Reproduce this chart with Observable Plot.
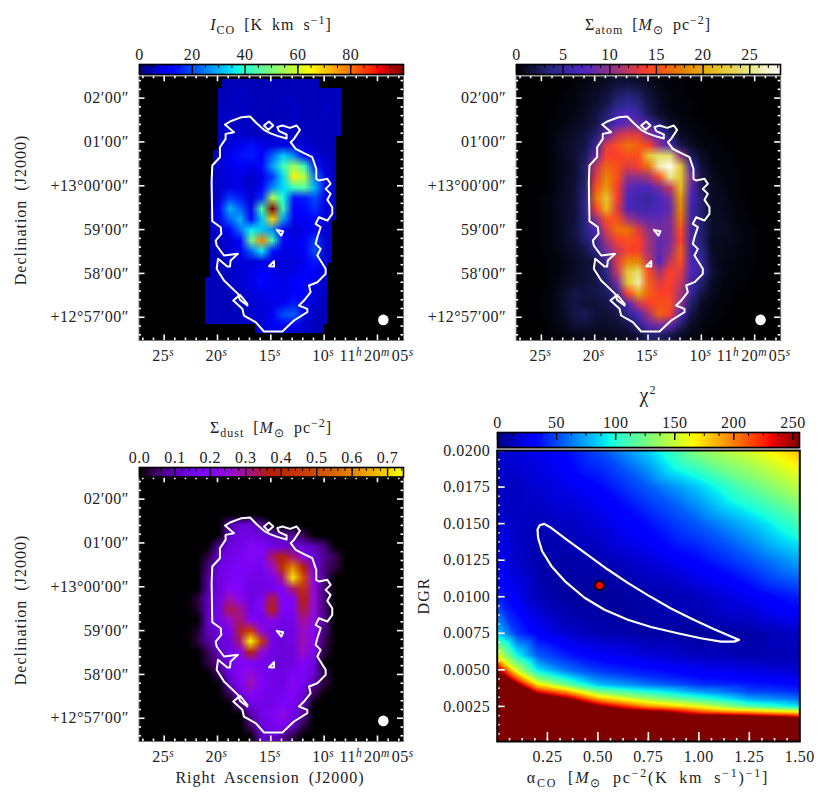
<!DOCTYPE html>
<html>
<head>
<meta charset="utf-8">
<script src="https://cdn.jsdelivr.net/npm/d3@7"></script>
<script src="https://cdn.jsdelivr.net/npm/@observablehq/plot@0.6"></script>
<style>
  body { margin: 0; background: white; font-family: "Liberation Serif", serif; color: #222; }
  #page { position: relative; width: 830px; height: 807px; overflow: hidden; }
  #page svg { position: absolute; }
  .lab { position: absolute; white-space: nowrap; font-size: 16px; transform: translate(-50%, -50%); letter-spacing: 1px; word-spacing: 4px; }
  .lab.rot { transform: translate(-50%, -50%) rotate(-90deg); }
  .lab.wide { letter-spacing: 1.8px; word-spacing: 5px; }
  .lab sub, .lab sup { font-size: 12px; line-height: 0; }
</style>
</head>
<body>
<div id="page"></div>
<script>
// map axes: RA seconds past 11h20m, Dec arcmin from +13 deg
const raTicks = [25, 20, 15, 10, 5];
const decTicks = [2, 1, 0, -1, -2, -3];
const decLabels = ["02′00″", "01′00″", "+13°00′00″", "59′00″", "58′00″", "+12°57′00″"];
const raDomain = [27.36, 2.56];
const decDomain = [-3.53, 2.5];

// I_CO, K km/s, columns from RA 21.39s going 1s per cell, 14 columns, 25 rows
const icoRows = [
  [4,5,5,5,5,4,5,5,5,5,5,5,5,5],
  [4,5,5,6,5,5,5,5,5,5,5,5,6,5],
  [4,5,6,6,6,5,5,6,6,5,5,6,5,5],
  [4,6,6,6,5,5,5,5,6,5,5,6,5,5],
  [4,6,6,6,6,5,5,5,5,5,6,5,5,4],
  [4,6,7,7,6,6,6,7,6,6,6,5,5,4],
  [4,6,8,10,14,9,8,9,8,7,6,5,5,4],
  [4,7,10,14,15,11,22,33,26,11,8,6,5,4],
  [5,7,9,12,9,13,28,42,54,42,15,7,5,4],
  [5,7,9,9,6,9,18,34,66,56,24,9,5,4],
  [5,6,9,9,6,11,26,34,42,46,30,11,5,4],
  [5,7,18,15,7,16,56,38,14,15,20,9,5,4],
  [5,11,30,22,9,44,100,42,12,13,17,9,5,4],
  [5,9,22,30,11,32,70,28,10,11,13,7,5,4],
  [5,7,11,24,36,32,26,11,7,9,12,7,5,4],
  [5,6,8,13,48,78,42,11,9,11,18,7,5,4],
  [5,5,7,10,22,36,14,9,9,11,20,7,5,4],
  [5,5,7,8,8,9,8,8,8,10,15,7,5,4],
  [5,5,6,7,9,11,9,8,9,11,10,7,5,4],
  [5,5,6,7,9,13,10,9,11,13,9,6,5,4],
  [5,5,5,6,8,9,10,9,11,11,8,6,4,4],
  [5,5,5,6,7,8,9,10,15,11,7,5,4,4],
  [5,5,5,6,7,8,10,20,22,9,6,5,4,4],
  [5,5,5,6,6,7,11,12,10,7,5,5,4,4],
  [5,5,5,6,6,6,6,6,6,6,5,4,4,4]
];
// CO map coverage: dec top, dec bottom, RA left, RA right
const icoFootprint = [
  [2.5, 2.42, 15, 15],
  [2.42, 2.21, 19.55, 10.48],
  [2.21, 1.12, 19.86, 8.39],
  [1.12, 0.80, 19.86, 8.86],
  [0.80, 0.20, 20.33, 8.86],
  [0.20, -0.79, 20.64, 8.86],
  [-0.79, -1.78, 20.64, 9.23],
  [-1.78, -2.09, 20.64, 9.70],
  [-2.09, -3.17, 21.11, 9.70],
  [-3.17, -3.36, 16.42, 10.02],
  [-3.36, -3.53, 15, 15]
];

// Sigma_atom, 25 x 25 cells over the whole frame
const atomRows = [
  [0,0,0,0,0,.3,.5,.8,1,1.5,1.5,1.2,1,.5,.3,.2,.1],
  [0,0,0,0,.2,.4,.8,1,1.5,2.5,3,2.5,1.5,.8,.4,.2,.1],
  [0,0,0,.1,.3,.5,.8,1.2,2,3.5,4.5,3.5,2,1,.5,.3,.2,.1],
  [0,0,0,.2,.4,.6,1,1.8,3,6,7,5.5,2.5,1.2,.6,.4,.2,.1],
  [0,0,.1,.3,.5,.8,1.2,2,4,7,8.5,8,6,3,1.2,.6,.4,.2,.1],
  [0,0,.1,.4,.8,1.2,1.8,3,8,12,13,13,10,7,3,1,.6,.3,.2,.1],
  [0,0,.1,.5,1,1.4,2,5,13,15,17,16,14,10,7,2,1,.5,.3,.2,.1],
  [0,0,.1,.4,.9,1.4,2.5,8,14,14,15,15,22,24,24,10,2.5,1,.5,.3,.2],
  [0,0,.1,.4,.8,1.3,3,12,16,15,13,14,17,26,28,22,6,1.5,.6,.4,.2,.1],
  [0,0,.1,.4,.8,1.4,3,13,18,15,10,10,11,15,25,22,9,2,.8,.5,.3,.1],
  [0,0,.1,.4,.9,1.5,3.5,15,19,14,8,7,7,9,12,21,8,2.5,1,.6,.3,.1],
  [.1,.1,.3,.6,1,1.5,4,17,22,14,7,6,5,7,9,19,7,3,1,.7,.4,.2],
  [0,.1,.3,.6,1,1.5,4,14,21,13,7,6,6,7,8,18,6,3,1,.8,.5,.2],
  [0,.1,.2,.5,1,1.6,3.5,10,15,15,11,9,8,8,9,17,6,3,1,1,.6,.3,.1],
  [0,.1,.2,.5,1,1.8,3.5,7,13,17,17,13,10,9,9,15,6,3,1.2,1,.7,.4,.2],
  [0,.1,.2,.5,1,1.6,3,5,11,14,15,14,11,8,9,14,6,3,1,.8,.7,.5,.3],
  [0,.1,.2,.4,.8,1.3,2,4,9,12,14,14,11,8,10,16,6,4,1,.7,.6,.4,.2],
  [0,0,.1,.3,.6,1,1.5,2,5,13,18,18,12,7,12,15,7,5,1.2,.6,.5,.3,.2],
  [0,0,.1,.3,.6,1,1.5,2,4,12,22,24,15,11,14,13,7,5,1.5,.6,.4,.3,.1],
  [0,0,.1,.4,.8,1.2,1.5,2,3,9,22,26,16,13,14,12,6,3,1,.5,.3,.2,.1],
  [0,.1,.2,.5,1.2,2,1.8,2,2.5,5,14,20,16,14,14,11,5,2,.8,.4,.2,.1],
  [0,.1,.2,.5,1.2,2,1.5,1.5,2,3,7,12,14,15,15,10,3,1,.5,.3,.1],
  [0,.1,.2,.5,1,2,2.5,1.5,1.5,2,4,7,11,16,14,7,2,.8,.4,.2,.1],
  [0,0,.1,.4,.8,1.5,1.5,1.2,1.2,1.5,2,4,8,9,8,3,1,.5,.3,.1],
  [0,0,.1,.2,.4,.6,.8,.8,.8,1,1,1.5,3,3,2,1,.5,.3,.1]
];

// Sigma_dust in hundredths, 25 x 25 cells over the whole frame
const dustRows = [
  [], [], [], [],
  [0,0,0,0,0,0,0,0,8,13,13,8],
  [0,0,0,0,0,0,0,0,11,14,15,13,11,8,8,4],
  [0,0,0,0,0,0,0,8,14,15,20,18,15,14,12,12,10,6],
  [0,0,0,0,0,0,3,12,15,17,20,18,32,38,32,22,12,7,4],
  [0,0,0,0,0,0,6,13,16,18,17,16,26,42,60,38,17,6,3],
  [0,0,0,0,0,0,8,14,17,18,15,15,17,30,72,50,22,6],
  [0,0,0,0,0,0,8,14,20,18,14,14,16,18,32,42,24,6],
  [0,0,0,0,0,3,10,15,28,22,14,18,35,18,18,38,24,6],
  [0,0,0,0,0,2,10,16,34,30,15,18,38,18,17,35,24,6],
  [0,0,0,0,0,0,11,15,25,32,20,16,22,15,16,30,22,7],
  [0,0,0,0,0,2,10,13,17,35,45,24,15,14,15,27,20,6],
  [0,0,0,0,0,3,8,13,14,32,74,46,16,13,15,28,20,4],
  [0,0,0,0,0,0,4,11,14,20,38,25,15,13,14,27,17,3],
  [0,0,0,0,0,0,3,8,14,18,18,16,14,13,14,20,14],
  [0,0,0,0,0,0,0,6,14,20,24,17,15,14,17,18,13,3],
  [0,0,0,0,0,0,0,0,10,18,28,18,15,14,20,17,8,3],
  [0,0,0,0,0,0,0,0,4,13,20,17,15,16,20,13,4],
  [0,0,0,0,0,0,0,0,0,6,14,15,15,18,17,10],
  [0,0,0,0,0,0,0,0,0,0,8,15,17,23,16,8],
  [0,0,0,0,0,0,0,0,0,0,5,12,16,18,12,3],
  [0,0,0,0,0,0,0,0,0,0,0,10,12,8,3]
];

// outer contour and the small holes, as [RA s, Dec arcmin]
const contourOuter = [
  [19.30,1.397],[18.83,1.466],[17.73,1.565],[16.95,1.58],[16.33,1.428],[15.64,1.276],[15.08,1.20],[14.39,1.139],
  [13.52,1.078],[13.52,1.169],[14.23,1.245],[14.39,1.337],[13.92,1.375],[13.20,1.321],[12.58,1.375],[12.27,1.276],
  [12.83,1.070],[13.14,.994],[12.67,.842],[11.89,.743],[11.11,.652],[10.74,.386],[10.74,.158],[10.49,.120],
  [9.70,.158],[9.39,.044],[9.86,-.070],[9.39,-.184],[9.70,-.321],[9.24,-.489],[9.24,-.641],[9.70,-.793],
  [10.49,-.717],[10.80,-.869],[10.33,-.945],[10.64,-1.173],[10.80,-1.325],[10.33,-1.439],[10.64,-1.591],[9.86,-1.895],
  [9.86,-2.010],[10.64,-2.200],[11.42,-2.276],[11.27,-2.428],[11.89,-2.618],[12.36,-2.732],[11.58,-2.808],[11.58,-2.884],
  [12.83,-3.074],[13.92,-3.325],[15.64,-3.325],[16.42,-3.112],[17.52,-2.960],[17.67,-2.808],[18.52,-2.618],[17.89,-2.489],
  [17.20,-2.694],[17.20,-2.732],[17.89,-2.603],[18.08,-2.466],[19.39,-2.162],[20.08,-1.895],[19.95,-1.667],[19.08,-1.842],
  [18.83,-1.842],[18.77,-1.705],[18.08,-1.553],[19.39,-1.591],[20.08,-1.363],[20.17,-1.249],[19.64,-1.097],[19.70,-.945],
  [20.49,-.808],[20.55,.082],[20.49,.462],[19.77,.652],[19.77,.880],[19.24,1.070],[19.24,1.184],[18.45,1.222],[19.30,1.397]
];
const contourHoleA = [[14.45,-1.006],[13.83,-1.036],[14.02,-1.135],[14.45,-1.006]];
const contourHoleB = [[15.17,-1.835],[14.70,-1.720],[14.70,-1.842],[15.17,-1.835]];
const contourDiamond = [[15.64,1.374],[15.17,1.466],[14.77,1.374],[15.23,1.276],[15.64,1.374]];
const beam = [[4.45, -3.06]];

// chi2 table
const chiAlpha = [0, .1, .2, .35, .5, .75, 1, 1.25, 1.5];
const chiDgr = [.02, .0175, .015, .0125, .01, .0075, .006, .005, .0045, .004, .0035, .003, .0025, .002, .0015, .0001];
const chiRows = [
  [16,20,25,35,50,85,132,155,183],
  [15,15,18,24,32,55,83,118,148],
  [20,15,13,15,20,35,55,80,110],
  [26,16,10,9,11,20,33,52,75],
  [40,25,13,7,6,9,15,26,40],
  [85,45,28,17,12,8,6,9,16],
  [160,95,55,38,28,20,14,11,12],
  [255,150,90,60,45,35,26,22,18],
  [300,200,125,88,60,44,33,28,24],
  [350,260,170,120,80,60,44,38,32],
  [400,320,235,190,130,100,72,50,42],
  [500,400,320,260,190,140,110,75,60],
  [600,500,400,330,260,195,160,115,90],
  [600,600,500,400,330,290,235,215,190],
  [600,600,600,500,400,400,400,350,300],
  [600,600,600,600,600,600,600,600,600]
];
const chiContour = [
  [.212,.01489],[.234,.01498],[.270,.01470],[.352,.01384],[.451,.01284],[.549,.01186],[.648,.01095],[.747,.01011],
  [.862,.00920],[.977,.00841],[1.076,.00777],[1.174,.00720],[1.199,.00705],[1.174,.00693],[1.109,.00693],[1.010,.00716],
  [.895,.00750],[.763,.00793],[.648,.00843],[.533,.00911],[.434,.00993],[.336,.01107],[.270,.01209],[.224,.01311],
  [.204,.01402],[.201,.01459],[.212,.01489]
];
const chiBest = [[.508, .01077]];
const alphaTicks = [.25, .5, .75, 1, 1.25, 1.5];
const dgrTicks = [.0025, .005, .0075, .01, .0125, .015, .0175, .02];

// colour maps
const jetStops = [0, .11, .125, .35, .375, .64, .66, .89, .91, 1];
const jetColors = ["#00007f", "#0000fe", "#0000ff", "#00e5f7", "#14ffe2", "#f5ff08", "#fff000", "#ff1a00", "#f00000", "#7f0000"];
const cmrStops = [0, .125, .25, .375, .5, .625, .75, .875, 1];
const cmrColors = ["#000000", "#262680", "#4d26bf", "#993380", "#ff4026", "#e68000", "#e6bf1a", "#e6e680", "#ffffff"];
const gnuStops = [0, .05, .1, .15, .25, .35, .4, .45, .5, .6, .7, .8, .9, 1];
const gnuColors = ["#000000", "#38004f", "#510096", "#6301ce", "#8004ff", "#970bce", "#a11096", "#ab174f", "#b42000", "#c63700", "#d55700", "#e48300", "#f2ba00", "#ffff00"];

const page = document.getElementById("page");
const textStyle = {background: "transparent", fontFamily: "Liberation Serif", fontSize: "16px", color: "#222", overflow: "visible", letterSpacing: "0.5px"};

function scaleFor(maxVal, stops, colors) {
  return {type: "linear", domain: stops.map(s => s * maxVal), range: colors, clamp: true};
}

// tick labels carry ^x for raised letters
function raise(svg) {
  d3.select(svg).selectAll("text").each(function () {
    const s = this.textContent;
    if (!s.includes("^")) return;
    const el = d3.select(this).text(null);
    s.split(/(\^.)/).filter(p => p).forEach(p => {
      if (p[0] === "^") {
        el.append("tspan").attr("dy", -5).attr("font-size", 11.5).attr("font-style", "italic").text(p[1]);
        el.append("tspan").attr("dy", 5).text("\u200a");
      } else el.append("tspan").text(p);
    });
  });
}

function place(svg, left, top) {
  raise(svg);
  svg.style.left = left + "px";
  svg.style.top = top + "px";
  page.append(svg);
}

function label(html, x, y, cls) {
  const d = document.createElement("div");
  d.className = "lab " + (cls || "");
  d.style.left = x + "px";
  d.style.top = y + "px";
  d.innerHTML = html;
  page.append(d);
  return d;
}

function flat(rows, n) {
  return rows.flatMap(r => d3.range(n).map(i => r[i] ?? 0));
}

// inward ticks: a tick spans the band, inset leaves only its end showing
function ticksX(values, len, span, side, st) {
  return Plot.tickX(values, {x: d => d, ...st, [side === "bottom" ? "insetTop" : "insetBottom"]: span - len});
}
function ticksY(values, len, span, side, st) {
  return Plot.tickY(values, {y: d => d, ...st, [side === "left" ? "insetRight" : "insetLeft"]: span - len});
}

function skyPanel(o) {
  const frameW = 264.5, frameH = 264.3;
  const raMinor = d3.range(3, 28).filter(d => !raTicks.includes(d));
  const decMinor = d3.range(-35, 25, 2).map(d => (d + 1) / 10).filter(d => !decTicks.includes(d));
  const st = {stroke: "white", strokeWidth: 1.6};
  const marks = [
    Plot.frame({fill: "black"}),
    ...o.image,
    ...[contourOuter, contourHoleA, contourHoleB, contourDiamond].map(c =>
      Plot.line(c, {x: "0", y: "1", stroke: "white", strokeWidth: 2, curve: "linear"})),
    Plot.dot(beam, {x: "0", y: "1", r: 5.3, fill: "white"}),
    Plot.frame({stroke: "#777", strokeWidth: 1}),
    ticksX(raMinor, 2.5, frameH, "bottom", st),
    ticksX(raMinor, 2.5, frameH, "top", st),
    ticksX(raTicks, 5.5, frameH, "bottom", st),
    ticksX(raTicks, 5.5, frameH, "top", st),
    ticksY(decMinor, 2.5, frameW, "left", st),
    ticksY(decMinor, 2.5, frameW, "right", st),
    ticksY(decTicks, 6, frameW, "left", st),
    ticksY(decTicks, 6, frameW, "right", st),
    Plot.axisX(raTicks, {anchor: "bottom", tickSize: 0, tickPadding: 9, label: null, stroke: null,
      tickFormat: d => d === 5 ? "11^h20^m05^s" : d + "^s"}),
    Plot.axisY(decTicks, {anchor: "left", tickSize: 0, tickPadding: 10, label: null, stroke: null,
      tickFormat: d => decLabels[decTicks.indexOf(d)]})
  ];
  const svg = Plot.plot({
    width: o.marginLeft + frameW + o.marginRight,
    height: 15.7 + frameH + 30,
    marginLeft: o.marginLeft, marginRight: o.marginRight, marginTop: 15.7, marginBottom: 30,
    style: textStyle,
    x: {domain: raDomain, range: [o.marginLeft, o.marginLeft + frameW]},
    y: {domain: decDomain},
    color: o.color,
    marks
  });
  place(svg, o.left, o.top);
}

function colorBar(o) {
  const minor = d3.range(0, o.max, o.minorStep);
  const st = {stroke: "black"};
  const svg = Plot.plot({
    width: o.w + 40, height: o.h + 24,
    marginLeft: 20, marginRight: 20, marginTop: 22, marginBottom: 2,
    style: textStyle,
    x: {domain: [0, o.max]},
    y: {domain: [0, 1], axis: null},
    color: o.color,
    marks: [
      Plot.raster({fill: (x, y) => x, x1: 0, x2: o.max, y1: 0, y2: 1, pixelSize: 1}),
      ticksX(minor, o.minorLen, o.h, "top", {...st, strokeWidth: 1}),
      ticksX(o.ticks, o.majorLen, o.h, "top", {...st, strokeWidth: 1.4}),
      Plot.frame({stroke: "black", strokeWidth: 1.6}),
      Plot.axisX(o.ticks, {anchor: "top", tickSize: 0, tickPadding: o.pad, label: null, stroke: null, tickFormat: o.fmt})
    ]
  });
  place(svg, o.left - 20, o.top - 22);
}

const icoColor = scaleFor(100, jetStops, jetColors);
const atomColor = scaleFor(28.3, cmrStops, cmrColors);
const dustColor = scaleFor(.745, gnuStops, gnuColors);
const chiColor = scaleFor(255.6, jetStops, jetColors);

// CO map: coarse cells, then black outside the coverage
skyPanel({
  left: 0, top: 60, marginLeft: 138.5, marginRight: 30, color: icoColor,
  image: [
    Plot.raster(flat(icoRows, 14), {fill: d => d, width: 14, height: 25, x1: 21.39, x2: 7.39, y1: 2.5, y2: -3.53}),
    Plot.rect(icoFootprint, {x1: () => raDomain[0], x2: "2", y1: "0", y2: "1", fill: "black", shapeRendering: "crispEdges"}),
    Plot.rect(icoFootprint, {x1: "3", x2: () => raDomain[1], y1: "0", y2: "1", fill: "black", shapeRendering: "crispEdges"})
  ]
});
skyPanel({
  left: 415, top: 60, marginLeft: 100.7, marginRight: 35, color: atomColor,
  image: [Plot.raster(flat(atomRows, 25), {fill: d => d, width: 25, height: 25, x1: raDomain[0], x2: raDomain[1], y1: 2.5, y2: -3.53})]
});
skyPanel({
  left: 0, top: 461, marginLeft: 138.5, marginRight: 30, color: dustColor,
  image: [Plot.raster(flat(dustRows, 25).map(d => d / 100), {fill: d => d, width: 25, height: 25, x1: raDomain[0], x2: raDomain[1], y1: 2.5, y2: -3.53})]
});

// chi2 surface
const chiPoints = chiDgr.flatMap((g, j) => chiAlpha.map((a, i) => ({a, g, v: chiRows[j][i]})));
const chiW = 302.6, chiH = 291;
const chiStyle = {stroke: "white", strokeWidth: 1.6};
place(Plot.plot({
  width: 440, height: 350,
  marginLeft: 96.7, marginRight: 40.7, marginTop: 10, marginBottom: 49,
  style: textStyle,
  x: {domain: [.0013, 1.5]},
  y: {domain: [.0001, .02]},
  color: chiColor,
  marks: [
    Plot.raster(chiPoints, {x: "a", y: "g", fill: "v", interpolate: "barycentric", pixelSize: 1}),
    Plot.line(chiContour, {x: "0", y: "1", stroke: "white", strokeWidth: 2.2}),
    Plot.dot(chiBest, {x: "0", y: "1", r: 4.5, fill: "red", stroke: "black", strokeWidth: 2}),
    ticksX(d3.range(1, 24).map(d => d * .0625), 3, chiH, "bottom", chiStyle),
    ticksX(alphaTicks, 9, chiH, "bottom", chiStyle),
    ticksY(d3.range(1, 32).map(d => d * .000625), 3, chiW, "left", chiStyle),
    ticksY(dgrTicks, 8, chiW, "left", chiStyle),
    Plot.frame({stroke: "black", strokeWidth: 2}),
    Plot.ruleY([.02], {stroke: "#aaa", strokeWidth: 2, dy: -2}),
    Plot.axisX(alphaTicks, {anchor: "bottom", tickSize: 0, tickPadding: 9, label: null, stroke: null, tickFormat: d => d.toFixed(2)}),
    Plot.axisY(dgrTicks, {anchor: "left", tickSize: 0, tickPadding: 7, label: null, stroke: null, tickFormat: d => d.toFixed(4)})
  ]
}), 400, 440);

colorBar({left: 139, top: 63.5, w: 264, h: 10, max: 100, ticks: [0, 20, 40, 60, 80], minorStep: 5, minorLen: 4, majorLen: 10, pad: 5, color: icoColor});
colorBar({left: 516, top: 63.5, w: 264, h: 10, max: 28.3, ticks: [0, 5, 10, 15, 20, 25], minorStep: 1, minorLen: 4, majorLen: 10, pad: 5, color: atomColor});
colorBar({left: 139, top: 466.5, w: 264, h: 9.5, max: .745, ticks: [0, .1, .2, .3, .4, .5, .6, .7], minorStep: .02, minorLen: 4, majorLen: 9.5, pad: 5, fmt: d => d.toFixed(1), color: dustColor});
colorBar({left: 497, top: 432, w: 302, h: 15, max: 255.6, ticks: [0, 50, 100, 150, 200, 250], minorStep: 12.5, minorLen: 4, majorLen: 8, pad: 5, color: chiColor});

// titles and axis labels
label("<i>I</i><sub>CO</sub> [K km s<sup>−1</sup>]", 271, 25);
label("Σ<sub>atom</sub> [<i>M</i><sub>⊙</sub> pc<sup>−2</sup>]", 648, 25);
label("Σ<sub>dust</sub> [<i>M</i><sub>⊙</sub> pc<sup>−2</sup>]", 271, 428);
label("χ<sup>2</sup>", 648, 395).style.fontSize = "20px";
label("Declination (J2000)", 21, 210, "rot");
label("Declination (J2000)", 21, 610, "rot");
label("DGR", 424, 596, "rot");
label("Right Ascension (J2000)", 270, 778);
label("α<sub>CO</sub> [<i>M</i><sub>⊙</sub> pc<sup>−2</sup>(K km s<sup>−1</sup>)<sup>−1</sup>]", 648, 778, "wide");
</script>
</body>
</html>
